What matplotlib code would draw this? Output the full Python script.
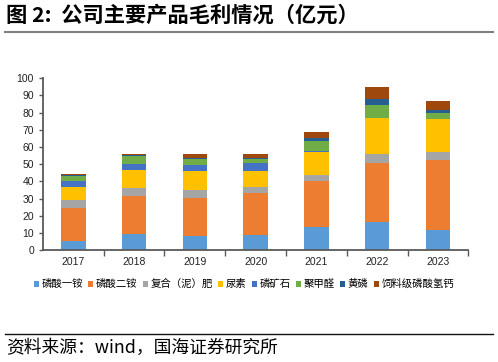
import matplotlib.pyplot as plt
import numpy as np

plt.rcParams['font.family'] = ['Liberation Sans', 'Noto Sans CJK SC', 'DejaVu Sans']

# 数据（亿元）
years = ['2017', '2018', '2019', '2020', '2021', '2022', '2023']
products = ['磷酸一铵', '磷酸二铵', '复合（泥）肥', '尿素', '磷矿石', '聚甲醛', '黄磷', '饲料级磷酸氢钙']
map_ = [5.2, 9.5, 8.2, 8.7, 13.6, 16.3, 12.0]
dap = [19.5, 22.0, 22.3, 24.3, 26.6, 34.2, 40.2]
compound = [4.6, 4.6, 4.5, 3.7, 3.7, 5.4, 5.1]
urea = [7.4, 10.7, 11.2, 9.3, 13.2, 21.0, 19.2]
rock = [3.7, 3.5, 3.5, 4.5, 0.3, 0.0, 0.0]
pom = [2.9, 4.5, 3.3, 2.7, 5.9, 7.4, 3.3]
yellow_p = [0.6, 0.3, 0.4, 0.6, 1.9, 3.5, 1.6]
dcp = [0.4, 0.6, 2.5, 2.1, 3.7, 6.8, 5.6]

series = [map_, dap, compound, urea, rock, pom, yellow_p, dcp]
colors = ['#5B9BD5', '#ED7D31', '#A5A5A5', '#FFC000', '#4472C4', '#70AD47', '#255E91', '#9E480E']

fig = plt.figure(figsize=(4.98, 3.62), dpi=100)
ax = fig.add_axes([0.0863, 0.309, 0.854, 0.475])

x = np.arange(len(years))
bottom = np.zeros(len(years))
for name, vals, c in zip(products, series, colors):
    ax.bar(x, vals, 0.4, bottom=bottom, color=c, label=name, zorder=2)
    bottom += np.array(vals)

ax.set_xlim(-0.5, len(years) - 0.5)
ax.set_ylim(0, 100)
ax.set_yticks(range(0, 101, 10))
ax.set_xticks(x)
ax.set_xticklabels(years)
ax.set_xticks(np.arange(0.5, len(years), 1), minor=True)
ax.tick_params(axis='x', which='major', length=0, labelsize=7.5, pad=5, colors='#222222')
ax.tick_params(axis='x', which='minor', length=4, width=1, color='#595959')
ax.tick_params(axis='y', length=3, width=1, color='#595959', labelsize=7.5, labelcolor='#222222')
for s in ['top', 'right']:
    ax.spines[s].set_visible(False)
for s in ['left', 'bottom']:
    ax.spines[s].set_color('#595959')
    ax.spines[s].set_linewidth(1.3)

fig.legend(loc='center', bbox_to_anchor=(0.49, 0.215), ncol=8, frameon=False,
           handlelength=0.5, handleheight=0.5, handletextpad=0.25,
           columnspacing=0.5, prop={'family': ['Noto Sans CJK SC'], 'size': 7.5})

# 标题与来源
fig.text(0.012, 0.958, '图 2:  公司主要产品毛利情况（亿元）', fontsize=15.3, fontweight='bold',
         family=['Noto Sans CJK SC', 'DejaVu Sans'], va='center', ha='left')
fig.add_artist(plt.Line2D([0.01, 0.99], [0.911, 0.911], color='#808080', lw=1.5))
fig.add_artist(plt.Line2D([0.01, 0.99], [0.077, 0.077], color='#111111', lw=1.0))
fig.text(0.012, 0.038, '资料来源：wind，国海证券研究所', fontsize=12.8,
         family=['Noto Sans CJK SC', 'DejaVu Sans'], va='center', ha='left')

fig.savefig('out.png', dpi=100)
